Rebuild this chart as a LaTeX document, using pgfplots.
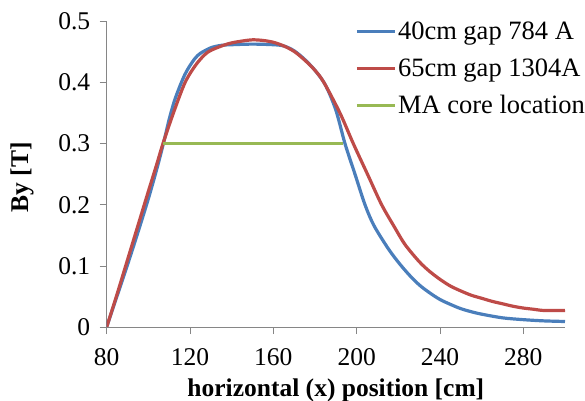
\documentclass[border=0pt]{standalone}
\usepackage{pgfplots}
\pgfplotsset{compat=1.18}
\usepackage{pgfplotstable}
\usepackage{fontspec}
\setmainfont{Liberation Serif}

\definecolor{exblue}{HTML}{4A7EBB}
\definecolor{exred}{HTML}{BE4B48}
\definecolor{exgreen}{HTML}{98B954}
\definecolor{axgray}{HTML}{868686}

% By along x for the 40 cm gap at 784 A
\pgfplotstableread{
x     by
80    0
85    0.051
90    0.102
95    0.155
100   0.210
104   0.258
107.2 0.300
110   0.340
112.5 0.370
115   0.393
117.5 0.413
120   0.428
122.5 0.440
125   0.448
130   0.457
135   0.461
140   0.462
150   0.463
160   0.462
165   0.460
170   0.452
175   0.438
180   0.420
185   0.396
190   0.355
194.4 0.300
199.2 0.250
204   0.200
208.3 0.166
215   0.129
220   0.106
225   0.086
230   0.069
235   0.056
240   0.045
245   0.037
250   0.030
255   0.025
260   0.021
270   0.015
280   0.012
290   0.010
300   0.009
}\gapforty

% By along x for the 65 cm gap at 1304 A
\pgfplotstableread{
x     by
80    0
85    0.054
90    0.110
95    0.166
100   0.222
104   0.266
107   0.300
112   0.350
117.6 0.400
123   0.430
128.6 0.450
136   0.461
140   0.465
145   0.468
150   0.470
155   0.469
160   0.466
165   0.460
170   0.451
175   0.437
180   0.420
184.3 0.400
192   0.350
198.4 0.300
205.6 0.247
212   0.200
218.4 0.162
223.2 0.135
230   0.107
235   0.091
240   0.078
245   0.067
250   0.059
255   0.052
260   0.047
265   0.042
270   0.038
275   0.034
280   0.031
285   0.029
290   0.027
300   0.027
}\gapsixtyfive

\begin{document}
\begin{tikzpicture}
\useasboundingbox (0,0) rectangle (585bp,401bp);
\begin{axis}[
  at={(106.7bp,74bp)}, anchor=south west,
  scale only axis, width=458.3bp, height=305.5bp,
  xmin=80, xmax=300, ymin=0, ymax=0.5,
  xtick={80,120,...,280}, ytick={0,0.1,...,0.5},
  axis lines=left, axis line style={-, draw=axgray, line width=0.8bp},
  tick align=outside, major tick length=7bp,
  tick style={draw=axgray, line width=0.8bp},
  font=\fontsize{25.5bp}{30bp}\selectfont,
  /pgf/number format/assume math mode=true,
  yticklabel style={/pgf/number format/fixed, /pgf/number format/precision=1, xshift=-6bp},
  xticklabel style={yshift=-11bp},
  xlabel={\textbf{horizontal (x) position [cm]}},
  ylabel={\textbf{By [T]}},
  xlabel style={at={(axis description cs:0.5,-0.208)}, anchor=center},
  ylabel style={at={(axis description cs:-0.185,0.49)}, anchor=center},
  legend cell align=left,
  legend style={at={(axis description cs:0.542,1.005)}, anchor=north west,
    draw=none, fill=none, inner sep=0pt, row sep=13.5bp,
    font=\fontsize{26.5bp}{31bp}\selectfont,
    nodes={inner xsep=1.5bp}},
  legend image code/.code={\draw[#1] (0bp,0bp) -- (38bp,0bp);},
]
\addplot[exblue, line width=3.2bp, smooth] table[x=x, y=by] {\gapforty};
\addlegendentry{40cm gap 784 A}
\addplot[exred, line width=3.2bp, smooth] table[x=x, y=by] {\gapsixtyfive};
\addlegendentry{65cm gap 1304A}
\addplot[exgreen, line width=3.2bp] coordinates {(107,0.3) (193.6,0.3)};
\addlegendentry{MA core location}
\end{axis}
\end{tikzpicture}
\end{document}
